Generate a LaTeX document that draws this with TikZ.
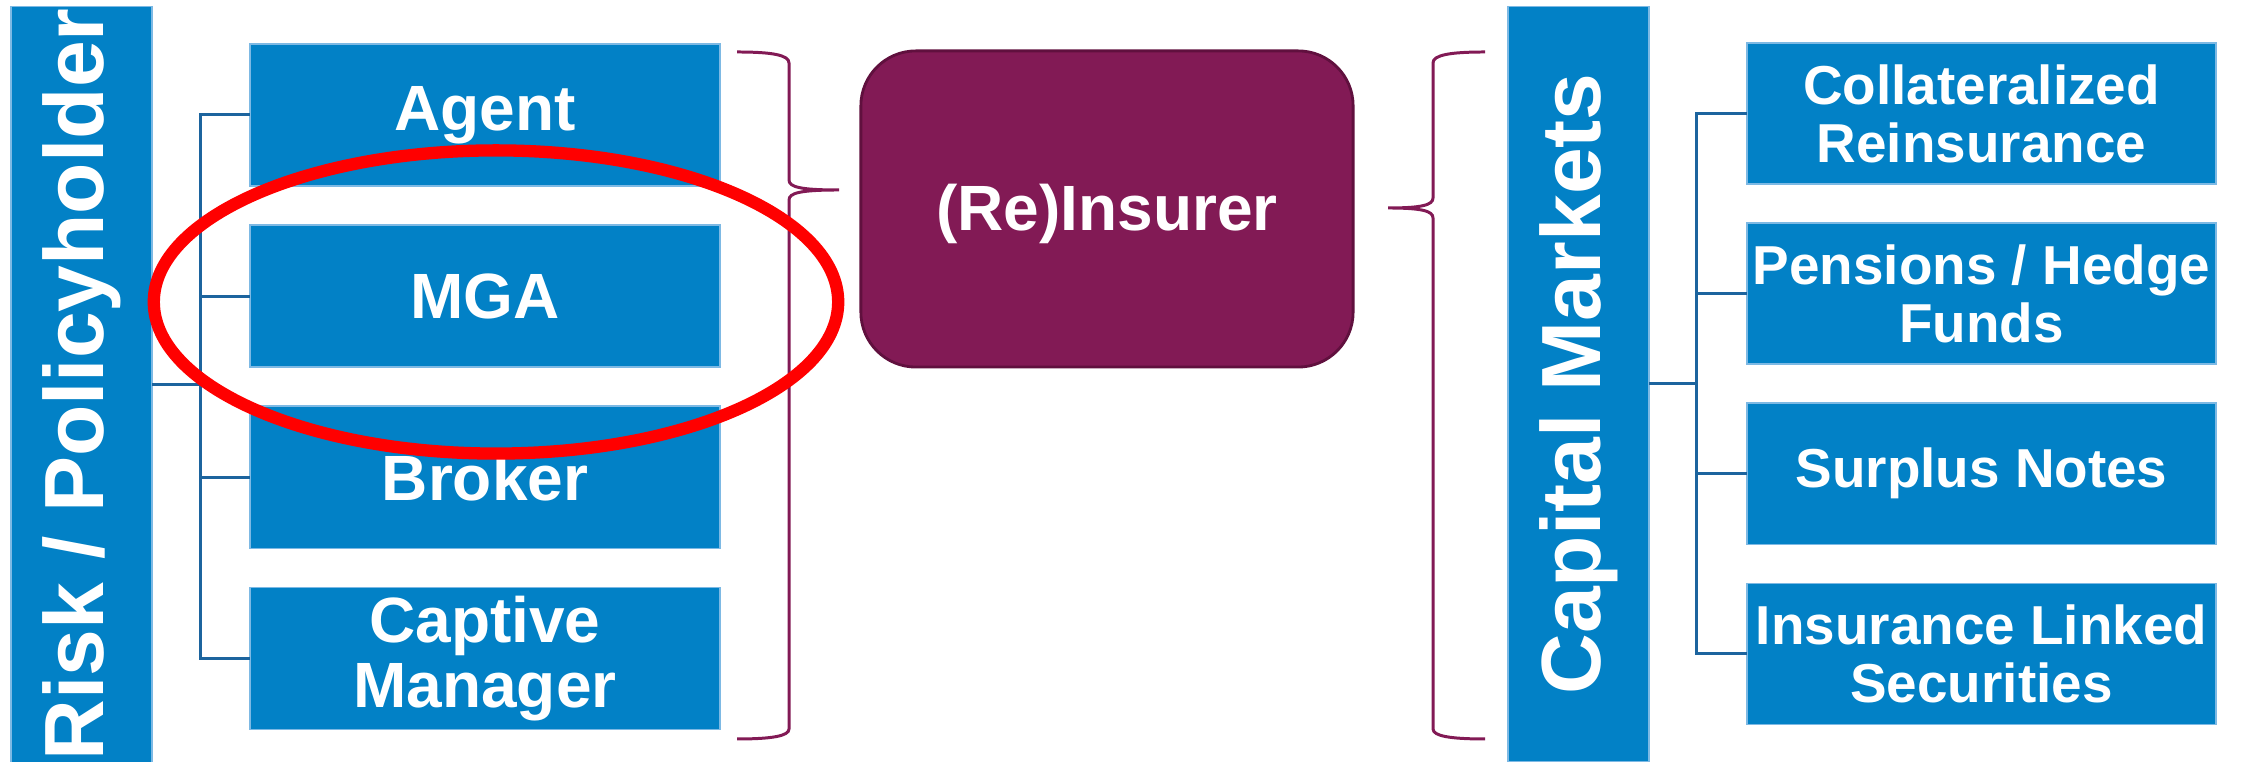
\documentclass[tikz,border=0pt]{standalone}
\usepackage{fontspec}
\setmainfont{Liberation Sans}
\usetikzlibrary{positioning, calc}

\begin{document}
\begin{tikzpicture}[
    x=0.01cm, y=-0.01cm,
    font=\bfseries,
    node distance=0.39cm,
    % Define colors
    /utils/exec={
        \definecolor{mktBlue}{RGB}{2, 129, 198}
        \definecolor{mktEdge}{RGB}{125, 185, 228}
        \definecolor{mktLine}{RGB}{28, 100, 158}
        \definecolor{reinsPurple}{RGB}{130, 26, 85}
        \definecolor{reinsDark}{RGB}{96, 16, 62}
        \definecolor{ringRed}{RGB}{255, 0, 0}
    },
    % Node Styles
    block/.style={
        draw=mktEdge, line width=0.4pt, fill=mktBlue, text=white,
        inner sep=0pt, outer sep=0pt, align=center
    },
    leftbox/.style={block, minimum width=4.70cm, minimum height=1.42cm,
        font=\fontsize{18.2}{18.6}\selectfont\bfseries},
    rightbox/.style={block, minimum width=4.69cm, minimum height=1.41cm,
        font=\fontsize{15.6}{16.5}\selectfont\bfseries},
    sidebar/.style={block, rotate=90, minimum width=7.55cm, minimum height=1.41cm,
        font=\fontsize{23.9}{24}\selectfont\bfseries},
    hub/.style={
        draw=reinsDark, line width=0.8pt, fill=reinsPurple, text=white,
        rounded corners=0.55cm, minimum width=4.92cm, minimum height=3.16cm,
        outer sep=0pt, text height=12.4pt, text depth=0pt,
        font=\fontsize{18.2}{18.6}\selectfont\bfseries
    },
    conn/.style={mktLine, line width=0.85pt},
    brace/.style={reinsPurple, line width=0.85pt},
    ring/.style={ringRed, line width=3.5pt}
]

\useasboundingbox (0,0) rectangle (2241,762);

% =================================================================
% LEFT SIDE: DISTRIBUTION
% =================================================================

\node[sidebar] (riskBar) at (81.5, 384.5) {Risk / Policyholder};

\node[leftbox] (agent) at (485, 115) {Agent};
\node[leftbox, below=of agent] (mga) {MGA};
\node[leftbox, below=of mga] (broker) {Broker};
\node[leftbox, below=of broker] (captive) {Captive\\Manager};

% Tree lines
\draw[conn] (agent.west) -- ++(-49, 0) |- (captive.west);
\draw[conn] (mga.west) -- ++(-49, 0);
\draw[conn] (broker.west) -- ++(-49, 0);
\draw[conn] (riskBar.south) -- ++(49, 0);

% --- Brace into the carrier ---
\draw[brace] (737,52) .. controls (772,52) and (789,55) .. (789,63)
    -- (789,180) .. controls (789,187) and (800,190) .. (839,190)
    .. controls (800,190) and (789,193) .. (789,200)
    -- (789,729) .. controls (789,736) and (772,739) .. (737,739);

% =================================================================
% CENTER: CARRIER
% =================================================================

\node[hub] (insurer) at (1107, 209) {(Re)Insurer};

% --- Brace out to capital ---
\draw[brace] (1485,52) .. controls (1450,52) and (1433,55) .. (1433,63)
    -- (1433,198) .. controls (1433,205) and (1422,208) .. (1388,208)
    .. controls (1422,208) and (1433,211) .. (1433,218)
    -- (1433,729) .. controls (1433,736) and (1450,739) .. (1485,739);

% =================================================================
% RIGHT SIDE: CAPITAL
% =================================================================

\node[sidebar] (capBar) at (1578.5, 384) {Capital Markets};

\node[rightbox] (collat) at (1981.5, 113.5) {Collateralized\\Reinsurance};
\node[rightbox, below=of collat] (pension) {Pensions / Hedge\\Funds};
\node[rightbox, below=of pension] (surplus) {Surplus Notes};
\node[rightbox, below=of surplus] (ils) {Insurance Linked\\Securities};

% Tree lines
\draw[conn] (collat.west) -- ++(-50, 0) |- (ils.west);
\draw[conn] (pension.west) -- ++(-50, 0);
\draw[conn] (surplus.west) -- ++(-50, 0);
\draw[conn] (capBar.south) -- ++(48, 0);

% --- Highlight ring ---
\draw[ring] (496, 302) ellipse [x radius=3.42cm, y radius=1.515cm];

\end{tikzpicture}
\end{document}
